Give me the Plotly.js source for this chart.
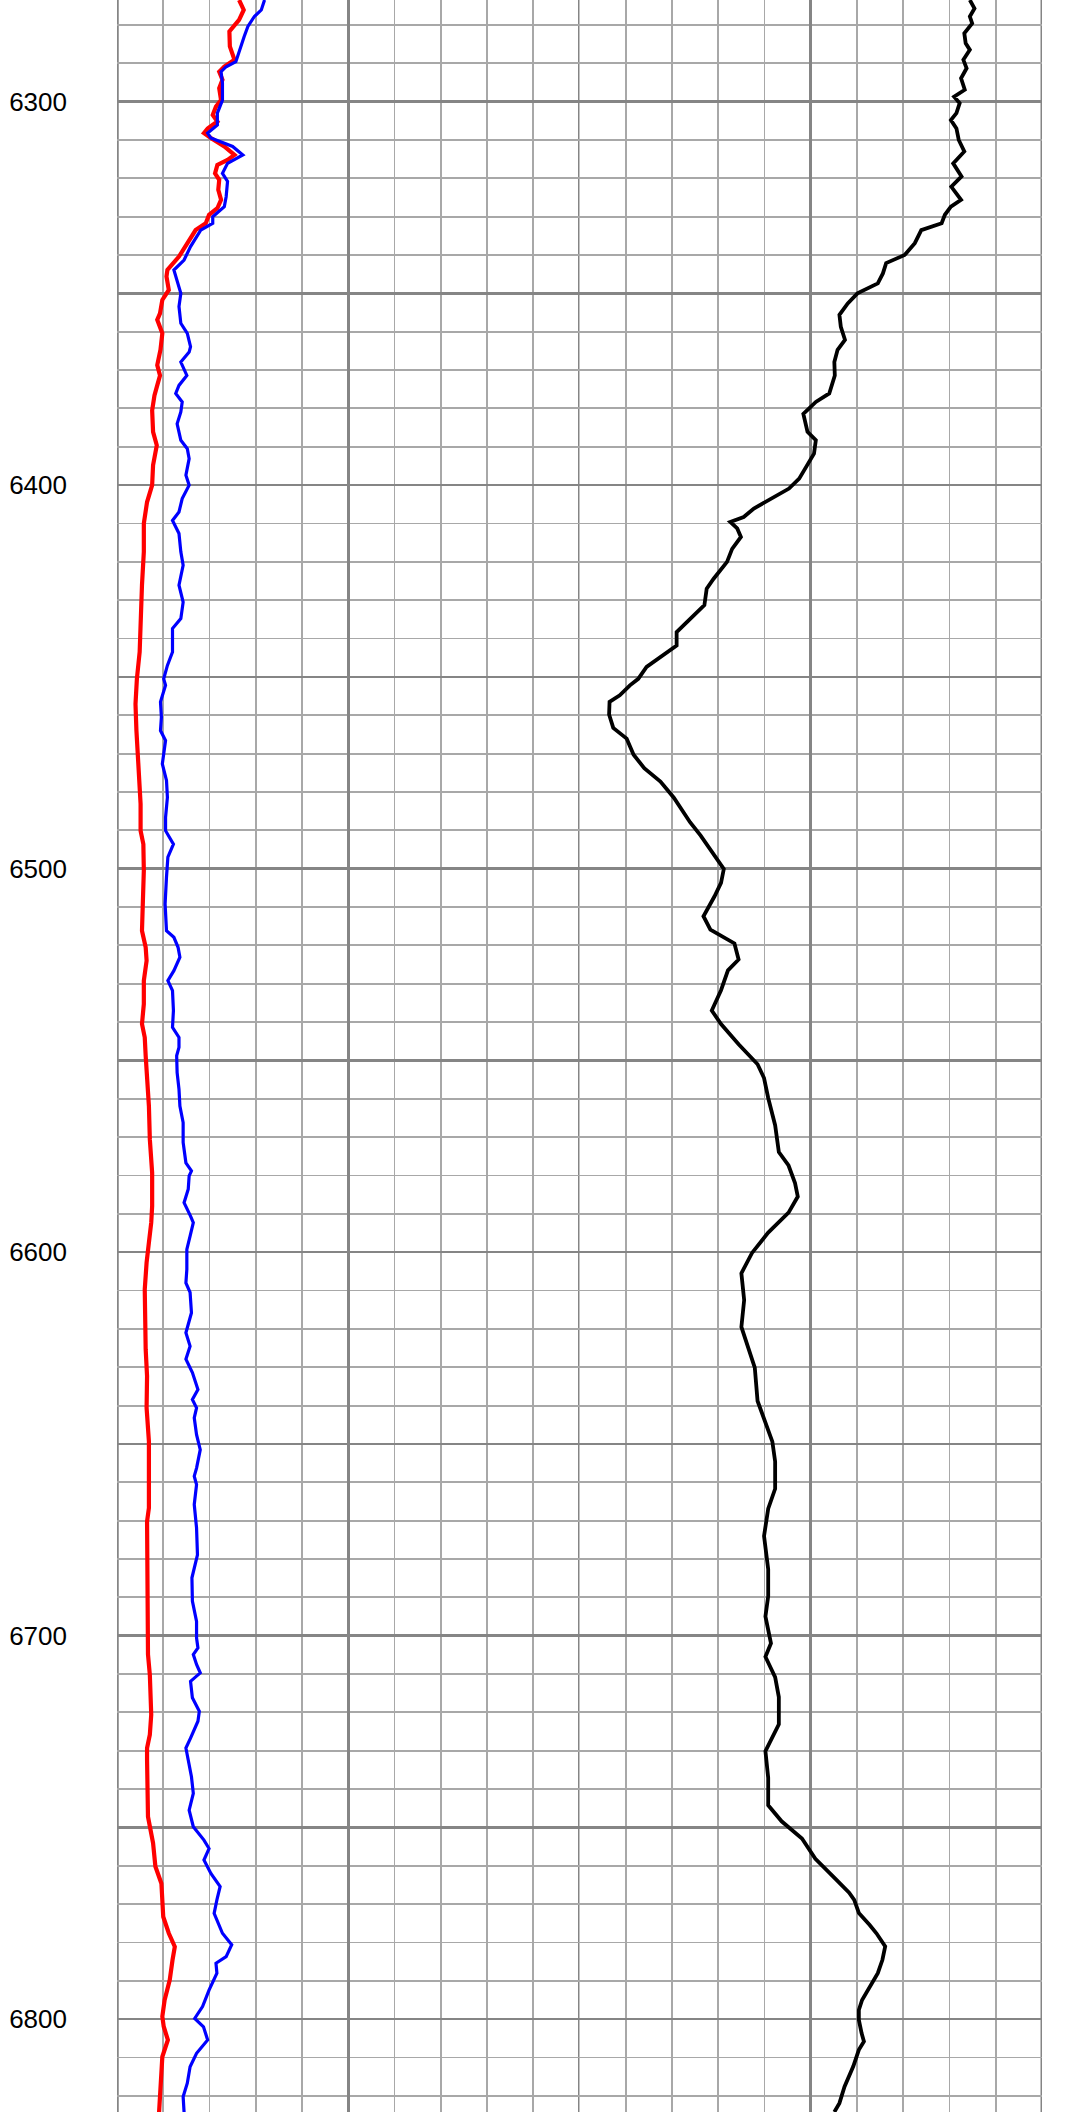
<!DOCTYPE html>
<html>
<head>
<meta charset="utf-8">
<script src="https://cdn.plot.ly/plotly-3.0.1.min.js"></script>
<style>html,body{margin:0;padding:0;background:#fff;}#chart{width:1089px;height:2112px;}</style>
</head>
<body>
<div id="chart"></div>
<script>
// Depth tick labels
const depthTicks = [6300, 6350, 6400, 6450, 6500, 6550, 6600, 6650, 6700, 6750, 6800];
const depthTickText = ['6300', '', '6400', '', '6500', '', '6600', '', '6700', '', '6800'];

// Track 1 - red curve (grid units, 10 per division)
const redDepth = [6273.5,6276.1,6278.7,6281.7,6285.6,6289.1,6290.9,6292.2,6294.3,6296.5,6299.6,6301.3,6303.5,6305.2,6307.0,6308.2,6309.5,6311.7,6313.9,6315.2,6316.5,6318.7,6320.4,6323.0,6325.6,6327.8,6329.5,6331.7,6333.5,6336.9,6340.4,6343.9,6345.6,6349.1,6351.7,6355.2,6356.9,6360.4,6364.7,6368.7,6371.4,6374.0,6376.6,6380.5,6386.1,6389.6,6394.8,6400.0,6404.4,6410.0,6417.4,6426.1,6434.8,6443.5,6450.5,6457.1,6464.0,6474.4,6483.1,6490.1,6493.6,6500.5,6509.2,6516.2,6520.5,6524.0,6529.2,6535.3,6540.5,6544.0,6548.8,6554.1,6561.9,6570.6,6579.3,6588.0,6592.3,6597.5,6602.7,6609.7,6618.4,6625.3,6632.3,6640.6,6649.3,6666.7,6670.2,6692.8,6699.7,6704.9,6710.2,6720.6,6725.8,6729.3,6732.4,6741.1,6747.2,6754.1,6760.2,6764.6,6773.3,6777.6,6781.1,6784.6,6789.8,6795.0,6799.3,6801.9,6805.4,6809.8,6815.9,6824.2];
const redValue = [26.4,27.4,26.4,24.3,24.4,25.4,23.2,22.1,22.8,22.1,22.5,21.4,20.7,21.7,19.6,18.8,20.3,23.2,25.4,23.9,21.7,21.2,22.1,21.9,22.5,21.7,19.9,19.2,17.0,15.2,13.4,10.9,10.7,11.2,9.8,9.3,8.7,9.8,9.4,8.7,9.3,8.7,8.1,7.6,7.8,8.6,7.8,7.6,6.5,5.8,5.8,5.4,5.1,4.9,4.3,4.0,4.2,4.7,5.1,5.1,5.7,5.8,5.7,5.4,6.2,6.4,5.8,5.8,5.4,6.0,6.2,6.5,6.9,7.1,7.6,7.6,7.4,6.9,6.4,6.0,6.0,6.2,6.5,6.4,6.9,6.9,6.5,6.5,6.7,6.7,7.1,7.4,7.1,6.5,6.5,6.5,6.7,7.8,8.3,9.6,10.0,11.2,12.5,12.0,11.4,10.3,9.8,10.1,11.0,9.8,9.6,9.1];

// Track 1 - blue curve
const blueDepth = [6273.5,6276.1,6277.8,6280.4,6283.0,6285.6,6289.6,6290.9,6292.2,6295.2,6299.6,6303.0,6306.1,6308.2,6309.5,6311.7,6313.9,6316.1,6318.7,6320.8,6324.8,6327.4,6330.0,6331.7,6333.5,6337.8,6341.3,6343.9,6346.5,6350.0,6353.4,6357.8,6360.4,6363.9,6365.3,6367.9,6371.4,6374.0,6376.1,6378.3,6380.9,6384.0,6388.3,6390.5,6393.1,6397.4,6400.0,6403.5,6407.0,6409.2,6412.6,6417.4,6420.9,6426.1,6430.5,6434.8,6437.4,6443.5,6447.0,6450.5,6452.2,6456.5,6460.5,6464.0,6466.6,6472.7,6477.0,6481.4,6486.6,6490.1,6493.6,6497.0,6502.2,6509.2,6516.2,6517.9,6520.5,6523.1,6526.6,6529.2,6531.8,6537.0,6541.4,6544.0,6546.6,6548.8,6553.2,6557.5,6561.9,6566.2,6571.4,6576.7,6578.8,6580.1,6583.6,6587.1,6590.6,6592.3,6595.8,6599.3,6604.5,6608.0,6610.5,6615.8,6621.0,6624.5,6627.9,6631.4,6635.8,6638.4,6640.6,6643.2,6647.6,6651.5,6656.3,6658.4,6660.6,6665.8,6671.9,6678.9,6684.9,6691.0,6696.3,6700.6,6703.2,6704.9,6707.5,6709.7,6711.9,6716.2,6719.7,6722.3,6726.7,6729.3,6732.4,6736.8,6741.1,6745.5,6749.8,6753.3,6755.5,6758.5,6762.0,6765.4,6768.9,6772.4,6777.6,6780.6,6783.7,6785.4,6788.0,6792.4,6796.7,6799.8,6802.0,6805.4,6808.9,6812.4,6816.7,6820.2,6824.2];
const blueValue = [31.9,31.2,29.7,28.3,27.5,26.8,25.7,23.6,22.5,22.8,22.8,21.7,21.7,19.6,20.3,25.0,27.2,23.9,22.8,23.9,23.6,23.2,20.7,20.7,18.1,15.9,14.5,12.3,13.0,13.8,13.4,13.8,15.2,15.9,15.6,13.8,15.1,13.4,12.7,14.1,13.8,13.0,13.8,15.2,15.6,14.9,15.6,14.1,13.4,12.0,13.4,13.8,14.3,13.4,14.3,13.8,12.0,12.0,10.9,10.1,10.5,9.4,9.6,9.4,10.5,9.8,10.7,10.9,10.5,10.5,12.2,11.0,10.7,10.4,10.7,12.3,13.2,13.6,12.3,11.0,12.0,12.2,12.0,13.4,13.4,12.9,13.0,13.4,13.6,14.3,14.3,14.9,16.1,15.6,15.4,14.5,15.9,16.5,15.8,15.1,15.1,14.9,15.8,16.1,14.9,15.8,14.9,16.3,17.5,16.3,17.2,16.7,17.2,18.0,17.2,16.7,17.2,16.7,17.2,17.4,16.2,16.3,17.2,17.2,17.5,16.5,17.2,18.0,15.9,16.3,17.8,17.5,15.9,14.9,15.4,16.1,16.5,15.6,16.5,18.8,19.9,18.8,20.3,22.3,21.6,21.0,22.8,24.8,23.6,21.4,21.6,19.9,18.5,16.8,18.7,19.6,17.2,15.8,15.2,14.3,14.5];

// Track 2 - black curve
const blackDepth = [6273.5,6275.7,6277.8,6279.6,6282.2,6284.8,6286.5,6289.1,6291.3,6293.9,6296.9,6298.7,6300.4,6303.0,6304.8,6307.0,6310.0,6313.0,6316.1,6319.5,6322.2,6325.6,6327.4,6329.5,6331.7,6333.5,6336.9,6340.0,6342.1,6344.8,6347.4,6350.0,6352.6,6355.6,6358.7,6362.1,6364.7,6367.9,6371.4,6374.0,6376.1,6378.3,6381.4,6386.1,6388.3,6391.8,6394.8,6398.3,6400.9,6403.5,6406.1,6408.3,6409.6,6411.3,6413.5,6416.6,6420.0,6424.4,6427.0,6431.3,6435.7,6438.3,6441.8,6444.4,6447.4,6450.5,6452.2,6454.8,6456.5,6459.8,6463.3,6466.1,6470.3,6473.8,6477.3,6481.5,6484.3,6487.9,6491.4,6495.6,6500.1,6503.7,6507.2,6512.4,6515.9,6519.5,6523.7,6526.5,6531.7,6537.0,6540.5,6545.8,6551.0,6554.6,6559.8,6566.9,6573.9,6577.4,6582.0,6585.5,6589.7,6594.9,6600.2,6605.5,6612.5,6619.5,6624.8,6630.1,6638.8,6644.1,6649.4,6654.6,6661.7,6666.9,6674.0,6682.7,6689.7,6695.0,6702.0,6705.5,6710.8,6716.0,6723.1,6730.1,6737.1,6744.2,6748.4,6752.9,6758.2,6763.5,6767.0,6768.9,6772.3,6775.4,6777.6,6781.0,6784.5,6788.0,6791.5,6795.0,6797.6,6800.2,6803.7,6805.8,6808.0,6812.3,6817.6,6821.9,6824.2];
const blackValue = [84.4,85.4,84.4,84.9,83.2,83.5,84.4,83.0,83.7,82.5,83.3,81.0,82.2,81.5,80.3,81.5,82.0,83.2,80.8,82.6,80.4,82.5,80.3,79.0,78.3,73.9,72.5,70.3,66.3,65.6,64.5,60.1,58.0,56.2,56.5,57.4,55.8,55.1,55.2,54.5,54.0,51.1,48.4,49.3,51.1,50.7,49.3,47.5,45.3,41.3,37.7,35.5,32.6,34.1,34.9,33.0,31.9,29.0,27.5,27.0,23.2,21.0,21.0,18.1,14.5,12.7,10.9,8.7,6.5,6.4,7.3,10.2,11.7,14.0,17.5,20.4,21.9,23.9,26.2,28.6,31.2,30.6,29.2,26.8,28.3,33.5,34.4,32.1,30.6,28.6,30.6,34.4,38.5,39.9,40.8,42.3,43.1,45.2,46.6,47.2,45.2,40.8,37.3,35.0,35.6,35.0,36.4,37.9,38.5,40.2,41.7,42.3,42.3,40.8,39.9,40.8,40.8,40.2,41.4,40.2,42.3,43.1,43.1,40.2,40.8,40.8,43.7,48.1,51.0,55.4,58.3,59.4,60.4,62.7,64.2,66.1,65.5,64.5,62.7,61.1,60.4,60.4,61.0,61.5,60.4,59.2,57.3,56.2,55.1];

const minorGrid = '#a8a8a8';
const majorGrid = '#858585';

const traces = [
  {x: redValue, y: redDepth, xaxis: 'x', yaxis: 'y', type: 'scatter', mode: 'lines',
   line: {color: '#ff0000', width: 4.2}, hoverinfo: 'skip'},
  {x: blueValue, y: blueDepth, xaxis: 'x', yaxis: 'y', type: 'scatter', mode: 'lines',
   line: {color: '#0000ff', width: 3.2}, hoverinfo: 'skip'},
  {x: blackValue, y: blackDepth, xaxis: 'x2', yaxis: 'y', type: 'scatter', mode: 'lines',
   line: {color: '#000000', width: 3.8}, hoverinfo: 'skip'}
];

function xAxis(domain) {
  return {
    domain: domain, range: [0, 100], anchor: 'y',
    tickmode: 'array', tickvals: [50], showticklabels: false, ticks: '',
    showgrid: true, gridcolor: majorGrid, gridwidth: 2.6,
    zeroline: false, showline: false, fixedrange: true,
    minor: {tickmode: 'linear', tick0: 0, dtick: 10, showgrid: true, gridcolor: minorGrid, gridwidth: 1.9, ticks: ''}
  };
}

const layout = {
  width: 1089, height: 2112,
  margin: {l: 117, r: 47, t: 0, b: 0, pad: 0},
  paper_bgcolor: '#ffffff', plot_bgcolor: '#ffffff',
  showlegend: false,
  xaxis: xAxis([0, 0.5]),
  xaxis2: xAxis([0.5, 1]),
  yaxis: {
    range: [6824.2, 6273.5], autorange: false,
    tickmode: 'array', tickvals: depthTicks, ticktext: depthTickText,
    ticks: '', ticklabelstandoff: 49,
    tickfont: {family: 'Liberation Sans, Arial, sans-serif', size: 26, color: '#000000'},
    showgrid: true, gridcolor: majorGrid, gridwidth: 2.6,
    zeroline: false, showline: false, fixedrange: true,
    minor: {tickmode: 'linear', tick0: 6300, dtick: 10, showgrid: true, gridcolor: minorGrid, gridwidth: 1.9, ticks: ''}
  },
  shapes: [
    {type: 'line', xref: 'x', yref: 'paper', x0: 0, x1: 0, y0: 0, y1: 1, line: {color: majorGrid, width: 3.5}, layer: 'below'},
    {type: 'line', xref: 'x', yref: 'paper', x0: 100, x1: 100, y0: 0, y1: 1, line: {color: majorGrid, width: 3}, layer: 'below'},
    {type: 'line', xref: 'x2', yref: 'paper', x0: 100, x1: 100, y0: 0, y1: 1, line: {color: majorGrid, width: 3}, layer: 'below'}
  ]
};

Plotly.newPlot('chart', traces, layout, {staticPlot: true, displayModeBar: false});
</script>
</body>
</html>
